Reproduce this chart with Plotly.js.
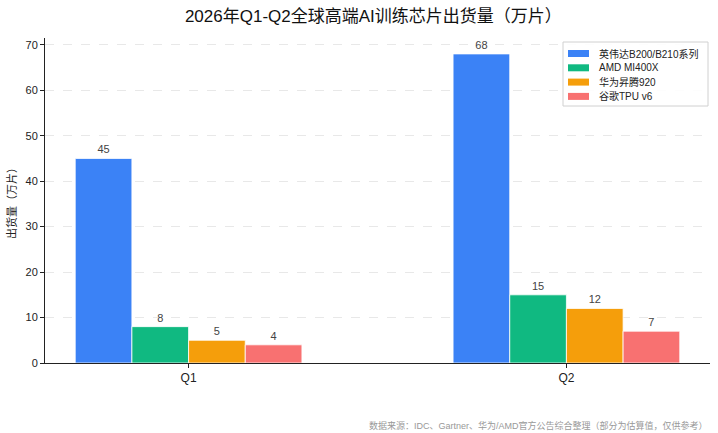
<!DOCTYPE html>
<html>
<head>
<meta charset="utf-8">
<script src="https://cdn.plot.ly/plotly-3.0.1.min.js"></script>
<style>
  html, body { margin: 0; padding: 0; background: #fff; }
  #chart { width: 718px; height: 433px; }
</style>
</head>
<body>
<div id="chart"></div>
<script>
// quarters and shipments (10k units)
var quarters = ['Q1', 'Q2']
var seriesNames = ['英伟达B200/B210系列', 'AMD MI400X', '华为昇腾920', '谷歌TPU v6']
var nvidia = [45, 68]
var amd = [8, 15]
var huawei = [5, 12]
var google = [4, 7]
var colors = ['#3B82F6', '#10B981', '#F59E0B', '#F87171']

var font = '"Liberation Sans", "Noto Sans CJK SC", sans-serif'
var seriesValues = [nvidia, amd, huawei, google]

var traces = seriesValues.map(function (vals, i) {
    return {
        type: 'bar',
        name: seriesNames[i],
        x: quarters,
        y: vals,
        text: vals.map(String),
        textposition: 'outside',
        cliponaxis: false,
        textfont: { size: 11, color: '#444' },
        marker: { color: colors[i], line: { color: '#fff', width: 0.8 } }
    }
})

// plot area in pixels, used to place the hand drawn legend
var plotL = 45, plotT = 38, plotW = 665, plotH = 325
function px (x) { return (x - plotL) / plotW }
function py (y) { return (plotT + plotH - y) / plotH }

// legend box (matplotlib style: wide swatches, tight rows)
var shapes = [{
    type: 'rect', xref: 'paper', yref: 'paper',
    x0: px(563), x1: px(708), y0: py(106), y1: py(42),
    line: { color: '#d0d0d0', width: 1 },
    fillcolor: 'rgba(255,255,255,0.9)', layer: 'above'
}]
var annotations = []
seriesNames.forEach(function (name, i) {
    var cy = 53.5 + i * 14.3
    shapes.push({
        type: 'rect', xref: 'paper', yref: 'paper',
        x0: px(568), x1: px(589), y0: py(cy + 3.5), y1: py(cy - 3.5),
        line: { width: 0 }, fillcolor: colors[i], layer: 'above'
    })
    annotations.push({
        text: name, xref: 'paper', yref: 'paper',
        x: px(597), xanchor: 'left', y: py(cy), yanchor: 'middle',
        showarrow: false, font: { size: 10, color: '#222' }
    })
})

annotations.push({
    text: '数据来源：IDC、Gartner、华为/AMD官方公告综合整理（部分为估算值，仅供参考）',
    xref: 'paper', yref: 'paper',
    x: 1, xanchor: 'right', y: -0.17, yanchor: 'top',
    showarrow: false,
    font: { size: 9, color: '#999' }
})

var layout = {
    width: 718,
    height: 433,
    margin: { l: 45, r: 8, t: 38, b: 70 },
    paper_bgcolor: '#fff',
    plot_bgcolor: '#fff',
    font: { family: font, size: 12, color: '#222' },
    title: {
        text: '2026年Q1-Q2全球高端AI训练芯片出货量（万片）',
        font: { size: 17, color: '#111' },
        x: 0.52, xanchor: 'center', y: 0.962, yanchor: 'middle'
    },
    barmode: 'group',
    bargap: 0.4,
    bargroupgap: 0,
    showlegend: false,
    xaxis: {
        type: 'category',
        range: [-0.38, 1.38],
        showline: true, linecolor: '#222', linewidth: 1,
        ticks: 'outside', ticklen: 4, tickcolor: '#222',
        showgrid: false,
        tickfont: { size: 12, color: '#222' },
        zeroline: false
    },
    yaxis: {
        range: [0, 71.5],
        dtick: 10,
        showline: true, linecolor: '#222', linewidth: 1,
        ticks: 'outside', ticklen: 4, tickcolor: '#222',
        showgrid: true, gridcolor: '#e8e8e8', griddash: 'dash', gridwidth: 1,
        tickfont: { size: 11, color: '#222' },
        zeroline: false,
        title: { text: '出货量（万片）', font: { size: 11, color: '#222' }, standoff: 6 }
    },
    shapes: shapes,
    annotations: annotations
}

Plotly.newPlot('chart', traces, layout, { displayModeBar: false, staticPlot: true })
</script>
</body>
</html>
